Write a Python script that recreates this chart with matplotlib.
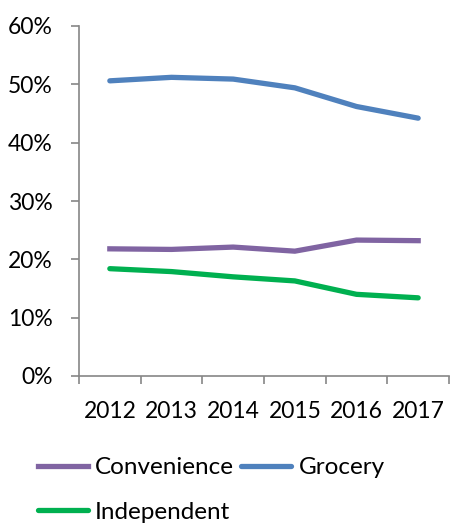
import matplotlib
matplotlib.use('Agg')
import matplotlib.pyplot as plt

plt.rcParams['font.family'] = ['Lato', 'DejaVu Sans']

anos = ['2012', '2013', '2014', '2015', '2016', '2017']
convenience = [21.8, 21.7, 22.1, 21.4, 23.3, 23.2]
grocery = [50.6, 51.2, 50.9, 49.4, 46.2, 44.2]
independent = [18.4, 17.9, 17.0, 16.3, 14.0, 13.4]
yticks = [0, 10, 20, 30, 40, 50, 60]

cinza = '#868686'

fig = plt.figure(figsize=(4.5, 5.25), dpi=100)
ax = fig.add_axes([79 / 450, 1 - 376 / 525, 370 / 450, 350 / 525])

xs = [i + 0.5 for i in range(len(anos))]
l1, = ax.plot(xs, convenience, color='#8064A2', lw=3.8, label='Convenience')
l2, = ax.plot(xs, grocery, color='#4F81BD', lw=3.8, label='Grocery', solid_capstyle='round')
l3, = ax.plot(xs, independent, color='#00B050', lw=3.8, label='Independent', solid_capstyle='round')

ax.set_xlim(0, len(anos))
ax.set_ylim(0, 60)
ax.set_yticks(yticks)
ax.set_yticklabels([str(v) + '%' for v in yticks])
ax.set_xticks(range(len(anos) + 1))
ax.set_xticklabels([])
ax.set_xticks(xs, minor=True)
ax.set_xticklabels(anos, minor=True)

for s in ['top', 'right']:
    ax.spines[s].set_visible(False)
for s in ['left', 'bottom']:
    ax.spines[s].set_color(cinza)
    ax.spines[s].set_linewidth(1.2)

ax.tick_params(axis='y', length=6, width=1.2, color=cinza, labelsize=16.5, pad=13)
ax.tick_params(axis='x', which='major', length=6, width=1.2, color=cinza)
ax.tick_params(axis='x', which='minor', length=0, labelsize=16.5, pad=18)

fig.legend([l1, l3, l2], ['Convenience', 'Independent', 'Grocery'],
           loc='upper left', bbox_to_anchor=(38 / 450, 1 - 457 / 525),
           ncol=2, frameon=False, fontsize=17.5, handlelength=2.05,
           handletextpad=0.3, columnspacing=0.3, labelspacing=0.98,
           borderpad=0, borderaxespad=0)

fig.savefig('out.png', dpi=100)
